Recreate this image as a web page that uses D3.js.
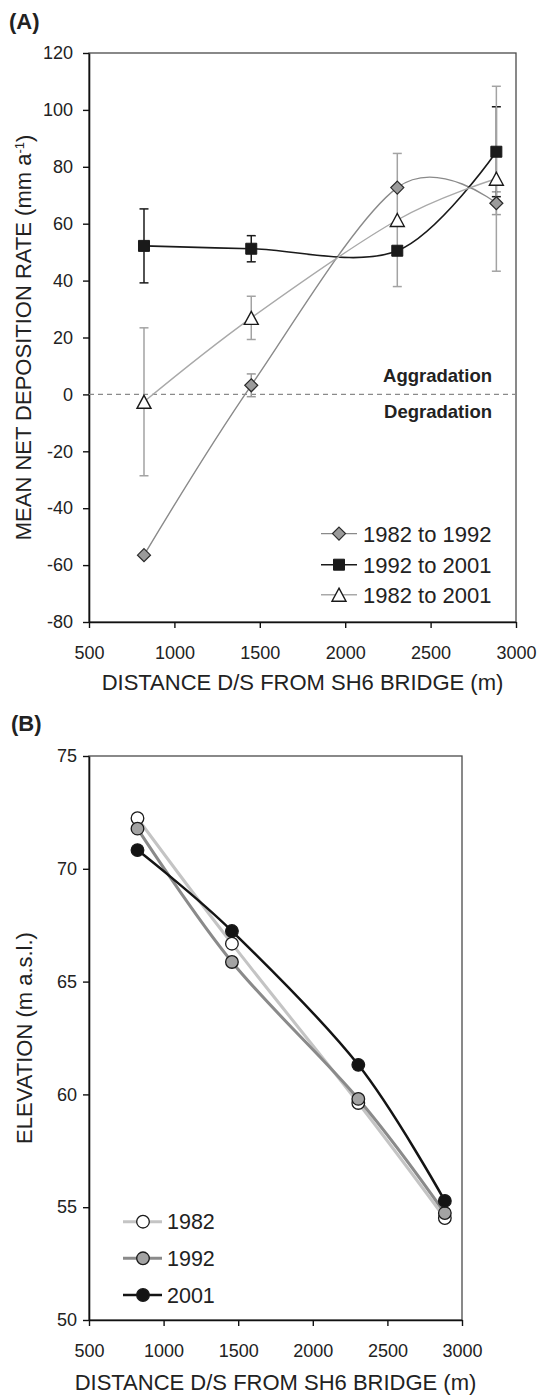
<!DOCTYPE html>
<html>
<head>
<meta charset="utf-8">
<script src="https://cdn.jsdelivr.net/npm/d3@7"></script>
<style>
  body { margin: 0; background: #fff; }
  svg { display: block; font-family: "Liberation Sans", Arial, sans-serif; }
</style>
</head>
<body>
<div id="chart"></div>
<script>
// distances downstream of the bridge (m)
const distanceA = [822, 1450, 2305, 2885];
const distanceB = [825, 1458, 2305, 2885];

// panel A: mean net deposition rate (mm a-1) and error
const rate8292 = [-56.5, 3.2, 72.7, 67.2];
const err8292 = [0, 4, 0, 4];
const rate9201 = [52.2, 51.2, 50.5, 85.3];
const err9201 = [13, 4.6, 0, 15.8];
const rate8201 = [-2.6, 26.9, 61.3, 75.8];
const err8201 = [26, 7.6, 23.4, 32.5];

// panel B: elevation (m a.s.l.)
const elev1982 = [72.24, 66.68, 59.62, 54.52];
const elev1992 = [71.78, 65.87, 59.8, 54.74];
const elev2001 = [70.83, 67.24, 61.31, 55.28];

const xTicks = [500, 1000, 1500, 2000, 2500, 3000];
const yTicksA = [-80, -60, -40, -20, 0, 20, 40, 60, 80, 100, 120];
const yTicksB = [50, 55, 60, 65, 70, 75];

const seriesA = [
  { name: "1982 to 1992", values: rate8292, err: err8292, marker: "diamond", line: "#8a8a8a", errColor: "#9a9a9a" },
  { name: "1992 to 2001", values: rate9201, err: err9201, marker: "square", line: "#1a1a1a", errColor: "#1a1a1a" },
  { name: "1982 to 2001", values: rate8201, err: err8201, marker: "triangle", line: "#a9a9a9", errColor: "#a3a3a3" }
];

const seriesB = [
  { name: "1982", values: elev1982, fill: "#ffffff", line: "#c4c4c4", width: 3 },
  { name: "1992", values: elev1992, fill: "#a3a3a3", line: "#8a8a8a", width: 3 },
  { name: "2001", values: elev2001, fill: "#141414", line: "#141414", width: 2.5 }
];

let svg = d3.select("#chart")
  .append("svg")
  .attr("width", 538)
  .attr("height", 1395);

//marker paths
function markerPath(type) {
  if (type === "diamond") return "M0,-6.5L6.5,0L0,6.5L-6.5,0Z";
  if (type === "square") return "M-5.5,-5.5H5.5V5.5H-5.5Z";
  return "M0,-6.5L7,6.5L-7,6.5Z";
}

function markerStyle(sel, type) {
  if (type === "diamond") sel.attr("fill", "#9b9b9b").attr("stroke", "#2a2a2a").attr("stroke-width", 1.2);
  else if (type === "square") sel.attr("fill", "#1a1a1a").attr("stroke", "#1a1a1a").attr("stroke-width", 1);
  else sel.attr("fill", "#fff").attr("stroke", "#1a1a1a").attr("stroke-width", 1.4);
}

//draw axes and frame shared by both panels
function drawFrame(g, xScale, yScale, yTicks, yPad, left, right, top, bottom) {
  g.append("rect")
    .attr("x", left).attr("y", top)
    .attr("width", right - left).attr("height", bottom - top)
    .attr("fill", "none").attr("stroke", "#4a4a4a").attr("stroke-width", 1.3);

  let plain = function(d) { return String(d); };

  let xAxis = g.append("g")
    .attr("transform", `translate(0,${bottom})`)
    .call(d3.axisBottom(xScale).tickValues(xTicks).tickFormat(plain)
      .tickSize(6).tickSizeOuter(0).tickPadding(18));

  let yAxis = g.append("g")
    .attr("transform", `translate(${left},0)`)
    .call(d3.axisLeft(yScale).tickValues(yTicks).tickFormat(plain)
      .tickSize(6).tickSizeOuter(0).tickPadding(yPad));

  [xAxis, yAxis].forEach(function(a) {
    a.select(".domain").attr("stroke", "#111").attr("stroke-width", 1.6);
    a.selectAll(".tick line").attr("stroke", "#111").attr("stroke-width", 1.4);
    a.selectAll(".tick text")
      .attr("fill", "#222")
      .style("font-size", "18px")
      .style("font-family", "'Liberation Sans', Arial, sans-serif");
  });
}

function drawPanelA() {
  let left = 89, right = 516, top = 53, bottom = 622;
  let g = svg.append("g");

  let xScale = d3.scaleLinear().domain([500, 3000]).range([left, right]);
  let yScale = d3.scaleLinear().domain([-80, 120]).range([bottom, top]);

  g.append("text")
    .attr("x", 9).attr("y", 29)
    .attr("font-size", 22).attr("font-weight", "bold").attr("fill", "#222")
    .text("(A)");

  drawFrame(g, xScale, yScale, yTicksA, 10, left, right, top, bottom);

  //zero line
  g.append("line")
    .attr("x1", left).attr("x2", right)
    .attr("y1", yScale(0)).attr("y2", yScale(0))
    .attr("stroke", "#8a8a8a").attr("stroke-width", 1.1)
    .attr("stroke-dasharray", "5,4");

  g.append("text")
    .attr("x", 492).attr("y", 382)
    .attr("text-anchor", "end").attr("font-size", 18.5).attr("font-weight", "bold").attr("fill", "#222")
    .text("Aggradation");
  g.append("text")
    .attr("x", 492).attr("y", 418)
    .attr("text-anchor", "end").attr("font-size", 18.5).attr("font-weight", "bold").attr("fill", "#222")
    .text("Degradation");

  //error bars
  seriesA.forEach(function(s) {
    s.values.forEach(function(v, i) {
      if (!s.err[i]) return;
      let x = xScale(distanceA[i]);
      let y1 = yScale(v + s.err[i]);
      let y2 = yScale(v - s.err[i]);
      g.append("line").attr("x1", x).attr("x2", x).attr("y1", y1).attr("y2", y2)
        .attr("stroke", s.errColor).attr("stroke-width", 1.5);
      [y1, y2].forEach(function(y) {
        g.append("line").attr("x1", x - 4.5).attr("x2", x + 4.5).attr("y1", y).attr("y2", y)
          .attr("stroke", s.errColor).attr("stroke-width", 1.5);
      });
    });
  });

  //smoothed lines
  let line = d3.line()
    .x(function(d, i) { return xScale(distanceA[i]); })
    .y(function(d) { return yScale(d); })
    .curve(d3.curveCardinal.tension(0));

  seriesA.forEach(function(s) {
    g.append("path")
      .datum(s.values)
      .attr("fill", "none")
      .attr("stroke", s.line)
      .attr("stroke-width", s.marker === "square" ? 1.6 : 1.4)
      .attr("d", line);
  });

  seriesA.forEach(function(s) {
    g.selectAll(null)
      .data(s.values)
      .enter()
      .append("path")
      .attr("d", markerPath(s.marker))
      .attr("transform", function(d, i) { return `translate(${xScale(distanceA[i])},${yScale(d)})`; })
      .call(markerStyle, s.marker);
  });

  //legend
  let legendY = [533.6, 564.7, 594.7];
  seriesA.forEach(function(s, i) {
    let lg = g.append("g").attr("transform", `translate(0,${legendY[i]})`);
    lg.append("line").attr("x1", 321).attr("x2", 357).attr("y1", 0).attr("y2", 0)
      .attr("stroke", s.line).attr("stroke-width", s.marker === "square" ? 1.6 : 1.4);
    lg.append("path").attr("d", markerPath(s.marker)).attr("transform", "translate(339,0)")
      .call(markerStyle, s.marker);
    lg.append("text").attr("x", 363).attr("y", 0).attr("dy", "0.36em")
      .attr("font-size", 22).attr("fill", "#222").text(s.name);
  });

  //axis titles
  g.append("text")
    .attr("x", (left + right) / 2).attr("y", 690)
    .attr("text-anchor", "middle").attr("font-size", 22).attr("fill", "#222")
    .text("DISTANCE D/S FROM SH6 BRIDGE (m)");

  let yTitle = g.append("text")
    .attr("transform", `translate(31,${(top + bottom) / 2}) rotate(-90)`)
    .attr("text-anchor", "middle").attr("font-size", 22).attr("fill", "#222");
  yTitle.append("tspan").text("MEAN NET DEPOSITION RATE (mm a");
  yTitle.append("tspan").attr("dy", "-0.55em").attr("font-size", 13).text("-1");
  yTitle.append("tspan").attr("dy", "0.35em").text(")");
}

function drawPanelB() {
  let left = 89, right = 462, top = 756, bottom = 1320;
  let g = svg.append("g");

  let xScale = d3.scaleLinear().domain([500, 3000]).range([left, right]);
  let yScale = d3.scaleLinear().domain([50, 75]).range([bottom, top]);

  g.append("text")
    .attr("x", 11).attr("y", 731)
    .attr("font-size", 22).attr("font-weight", "bold").attr("fill", "#222")
    .text("(B)");

  drawFrame(g, xScale, yScale, yTicksB, 6, left, right, top, bottom);

  let line = d3.line()
    .x(function(d, i) { return xScale(distanceB[i]); })
    .y(function(d) { return yScale(d); })
    .curve(d3.curveCardinal.tension(0));

  seriesB.forEach(function(s) {
    g.append("path")
      .datum(s.values)
      .attr("fill", "none")
      .attr("stroke", s.line)
      .attr("stroke-width", s.width)
      .attr("d", line);
  });

  seriesB.forEach(function(s) {
    g.selectAll(null)
      .data(s.values)
      .enter()
      .append("circle")
      .attr("cx", function(d, i) { return xScale(distanceB[i]); })
      .attr("cy", function(d) { return yScale(d); })
      .attr("r", 6.3)
      .attr("fill", s.fill)
      .attr("stroke", "#1a1a1a")
      .attr("stroke-width", 1.3);
  });

  //legend
  let legendY = [1221.7, 1258.3, 1295];
  seriesB.forEach(function(s, i) {
    let lg = g.append("g").attr("transform", `translate(0,${legendY[i]})`);
    lg.append("line").attr("x1", 123).attr("x2", 162).attr("y1", 0).attr("y2", 0)
      .attr("stroke", s.line).attr("stroke-width", s.width);
    lg.append("circle").attr("cx", 143).attr("cy", 0).attr("r", 6.3)
      .attr("fill", s.fill).attr("stroke", "#1a1a1a").attr("stroke-width", 1.3);
    lg.append("text").attr("x", 167).attr("y", 0).attr("dy", "0.36em")
      .attr("font-size", 21.5).attr("fill", "#222").text(s.name);
  });

  g.append("text")
    .attr("x", (left + right) / 2).attr("y", 1390)
    .attr("text-anchor", "middle").attr("font-size", 22).attr("fill", "#222")
    .text("DISTANCE D/S FROM SH6 BRIDGE (m)");

  g.append("text")
    .attr("transform", `translate(32,${(top + bottom) / 2}) rotate(-90)`)
    .attr("text-anchor", "middle").attr("font-size", 22).attr("fill", "#222")
    .text("ELEVATION (m a.s.l.)");
}

drawPanelA();
drawPanelB();
</script>
</body>
</html>
